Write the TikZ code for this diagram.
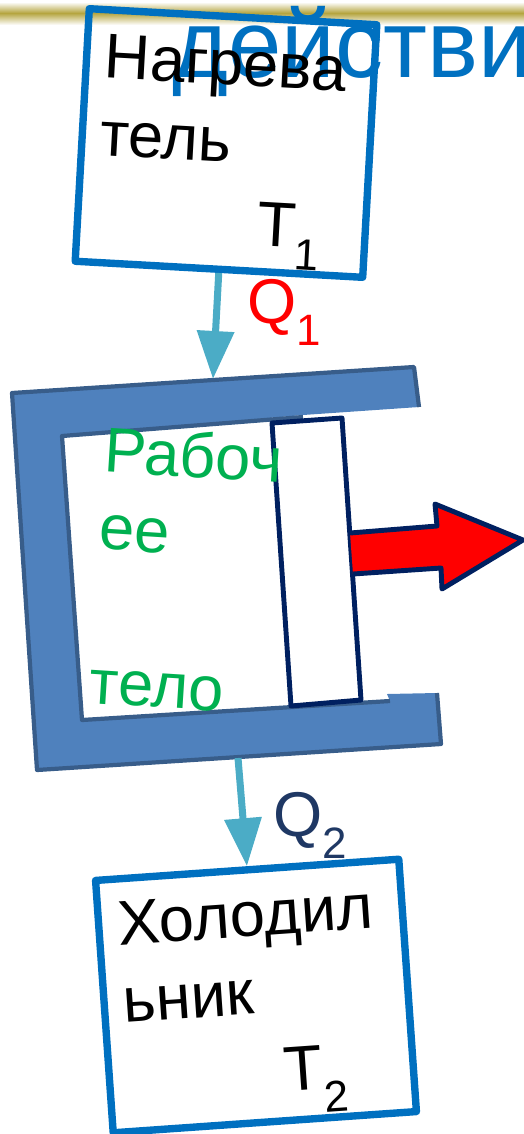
\documentclass[tikz,border=0pt]{standalone}
\usepackage{fontspec}
\setmainfont{Liberation Sans}
\usetikzlibrary{arrows.meta}
\definecolor{boxblue}{HTML}{0070C0}
\definecolor{flowteal}{HTML}{4BACC6}
\definecolor{wallfill}{HTML}{4F81BD}
\definecolor{walledge}{HTML}{385D8A}
\definecolor{pistonblue}{HTML}{002060}
\definecolor{bodygreen}{HTML}{00B050}
\definecolor{coldblue}{HTML}{1F3864}
\definecolor{bandgold}{HTML}{B5A53F}
\newcommand{\lowidx}[1]{\raisebox{-0.36em}{\fontsize{25}{25}\selectfont #1}}

\begin{document}
\begin{tikzpicture}[
  x=0.02cm,
  y=-0.02cm,
  bigtext/.style={inner sep=0pt,align=left,font=\fontsize{36}{44}\selectfont},
  thermbox/.style={draw=boxblue,line width=4.2pt,line join=round,minimum width=5.76cm,minimum height=5.06cm,inner sep=0pt},
  flow/.style={draw=flowteal,line width=4pt,-{Triangle[length=9.6mm,width=7.2mm]}},
  wall/.style={draw=walledge,line width=2.4pt,line join=round},
  piston/.style={draw=pistonblue,line width=2.8pt,line join=round},
]
\useasboundingbox (0,0) rectangle (524,1134);

% Band and heading behind the boxes
\shade[top color=white,bottom color=bandgold] (0,2) rectangle (524,13);
\shade[top color=bandgold,bottom color=white] (0,13) rectangle (524,25);
\node[inner sep=0pt,anchor=base west,text=boxblue,font=\fontsize{54.6}{60}\selectfont] (heading) at (172,77) {действи};

% Heater and cooler
\node[thermbox,rotate=-3.2] (heater) at (226,143) {};
\node[thermbox,rotate=4,minimum width=6.08cm] (cooler) at (256,996) {};

% Cylinder walls
\fill[wallfill] (12,393) -- (414,367) -- (419,407) -- (303,415) -- (62,436) -- (82,720)
  -- (390,701) -- (387,694) -- (437,693) -- (441,744) -- (37,770) -- cycle;
\draw[wall] (303,417) -- (62,436) -- (82,720) -- (390,701);
\draw[wall] (419,407) -- (414,367) -- (12,393) -- (37,770) -- (441,744) -- (437,693);
\coordinate (walltop) at (213,379);
\coordinate (wallbottom) at (238,758);

% Piston and its push arrow
\draw[piston,fill=white] (272,423) -- (342,418) -- (361,700) -- (291,706) -- cycle;
\draw[piston,fill=red] (350,533) -- (437,526) -- (435,504) -- (523,540) -- (442,589) -- (441,568) -- (353,574);

% Heat flow
\draw[flow] (heater.south) -- (walltop);
\draw[flow] (wallbottom) -- (cooler.north);

% Labels
\node[bigtext,rotate=-3.2,anchor=north west] (heatername) at (106,34) {Нагрева\\тель};
\node[bigtext,rotate=-3.2,anchor=base west] (heatertemp) at (256,245) {T\lowidx{1}};
\node[bigtext,anchor=base west,text=red] (heatq) at (247,323) {Q\lowidx{1}};
\node[bigtext,rotate=-3.6,anchor=north west,text=bodygreen] (bodyname) at (106,425) {Рабоч\\ее\\[44pt]тело};
\node[bigtext,anchor=base west,text=coldblue] (coldq) at (273,836) {Q\lowidx{2}};
\node[bigtext,rotate=4,anchor=north west] (coolername) at (116,902) {Холодил\\ьник};
\node[bigtext,rotate=4,anchor=base west] (coolertemp) at (285,1092) {T\lowidx{2}};

\end{tikzpicture}
\end{document}
